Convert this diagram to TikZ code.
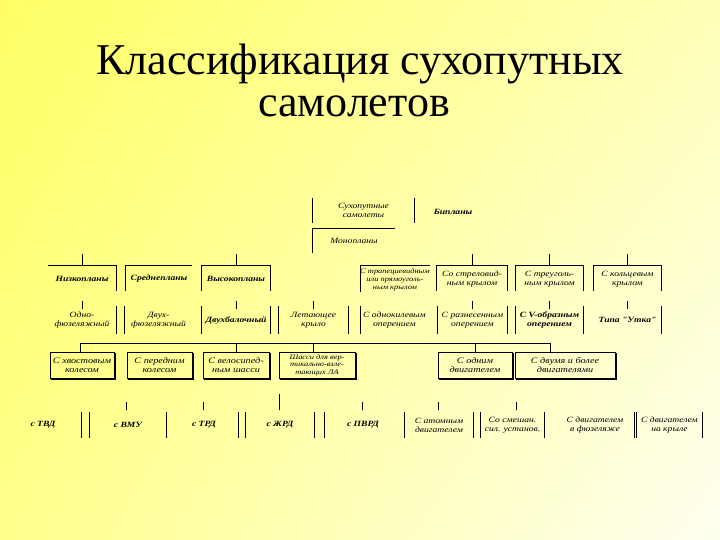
\documentclass[tikz,border=0pt]{standalone}
\usepackage{fontspec}
\usetikzlibrary{shadings}
\setmainfont{Liberation Serif}
\newfontfamily\boxfont[FakeStretch=1.2]{Liberation Serif}
\definecolor{bgUL}{RGB}{255,255,100}
\definecolor{bgUR}{RGB}{255,255,185}
\definecolor{bgLL}{RGB}{255,255,140}
\definecolor{bgLR}{RGB}{255,255,240}
\begin{document}
\begin{tikzpicture}[x=1pt,y=-1pt,
  lbl/.style={font=\boxfont\itshape\fontsize{8}{9}\selectfont, align=center, inner sep=0pt, minimum height=24pt},
  blbl/.style={lbl, font=\boxfont\bfseries\itshape\fontsize{8}{9}\selectfont},
  ln/.style={line width=0.8pt, black},
  framed/.style={lbl, draw, line width=0.8pt, minimum height=26pt, font=\boxfont\itshape\fontsize{8.5}{9.5}\selectfont},
  shadowln/.style={line width=1.4pt, black},
  title/.style={font=\fontsize{44}{50}\selectfont, inner sep=0pt, anchor=base}]
\useasboundingbox (0,0) rectangle (720,540);
\shade[upper left=bgUL, upper right=bgUR, lower left=bgLL, lower right=bgLR]
  (0,0) rectangle (720,540);
% title
\node[title] (t1) at (360,75) {Классификация сухопутных};
\node[title] (t2) at (354,117) {самолетов};
% top
\node[lbl, minimum width=101pt, minimum height=25pt] (top) at (363.5,210.5) {Сухопутные\\самолеты};
\node[blbl] (bip) at (453,212) {Бипланы};
\node[lbl, minimum width=82pt, minimum height=24pt] (mono) at (354,241) {Монопланы};
\draw[ln] (top.north west) -- (top.south west);
\draw[ln] (top.north east) -- (top.south east);
\draw[ln] (mono.north east) -- (mono.north west) -- (mono.south west);
% row 2
\node[blbl, minimum width=68pt] (b1) at (82,279) {Низкопланы};
\node[blbl, minimum width=66pt] (b2) at (159,279) {Среднепланы};
\node[blbl, minimum width=68pt] (b3) at (236,279) {Высокопланы};
\node[lbl, minimum width=66pt, font=\boxfont\itshape\fontsize{7}{8.3}\selectfont] (b4) at (395,280) {С трапециевидным\\или прямоуголь-\\ным крылом};
\node[lbl, minimum width=70pt] (b5) at (472,279) {Со стреловид-\\ным крылом};
\node[lbl, minimum width=67pt] (b6) at (549.5,279) {С треуголь-\\ным крылом};
\node[lbl, minimum width=67pt] (b7) at (627.5,279) {С кольцевым\\крылом};
\draw[ln] ([yshift=1pt]b1.north west) -- ([yshift=1pt]b1.north east) -- (b1.south east);
\draw[ln] ([yshift=1pt]b2.north east) -- ([yshift=1pt]b2.north west) -- (b2.south west);
\draw[ln] ([yshift=2pt]b4.north east) -- ([yshift=2pt]b4.north west) -- (b4.south west);
\foreach \n in {b3,b5,b6,b7}
  \draw[ln] (\n.south west) -- ([yshift=1pt]\n.north west) -- ([yshift=1pt]\n.north east) -- (\n.south east);
\foreach \n in {b1,b3,b5,b6,b7}
  \draw[ln] ([yshift=1pt]\n.north) -- ++(0,-12);
% row 3
\node[lbl, minimum width=68pt, minimum height=27pt] (c1) at (82,320) {Одно-\\фюзеляжный};
\node[lbl, minimum width=67pt, minimum height=27pt] (c2) at (158.5,320) {Двух-\\фюзеляжный};
\node[blbl, minimum width=68pt, minimum height=27pt] (c3) at (236,320) {Двухбалочный};
\node[lbl, minimum width=69pt, minimum height=27pt] (c4) at (313.5,320) {Летающее\\крыло};
\node[lbl, minimum width=67pt, minimum height=27pt] (c5) at (394.5,320) {С однокилевым\\оперением};
\node[lbl, minimum width=69pt, minimum height=27pt] (c6) at (472.5,320) {С разнесенным\\оперением};
\node[blbl, minimum width=67pt, minimum height=27pt] (c7) at (549.5,320) {С V-образным\\оперением};
\node[blbl, minimum width=67pt, minimum height=27pt] (c8) at (627.5,320) {Типа "Утка"};
\draw[ln] (c1.north east) -- (c1.south east);
\draw[ln] (c2.north west) -- (c2.south west);
\draw[ln] (c5.north west) -- (c5.south west);
\draw[ln] (c8.north east) -- (c8.south east);
\foreach \n in {c3,c4,c6,c7} {
  \draw[ln] (\n.north west) -- (\n.south west);
  \draw[ln] (\n.north east) -- (\n.south east);
}
\foreach \n in {c1,c3,c4,c6,c7,c8}
  \draw[ln] ([yshift=-3pt]\n.north) -- ++(0,-8);
% row 4
\node[framed, minimum width=64pt] (d1) at (82,365) {С хвостовым\\колесом};
\node[framed, minimum width=65pt] (d2) at (159.5,365) {С передним\\колесом};
\node[framed, minimum width=66pt] (d3) at (236,365) {С велосипед-\\ным шасси};
\node[framed, minimum width=76pt, font=\boxfont\itshape\fontsize{7}{7.6}\selectfont] (d4) at (317,365) {Шасси для вер-\\тикально-взле-\\тающих ЛА};
\node[framed, minimum width=74pt] (d5) at (475,365) {С одним\\двигателем};
\node[framed, minimum width=100pt] (d6) at (565,365) {С двумя и более\\двигателями};
\foreach \n in {d1,d2,d3,d4,d5,d6}
  \draw[shadowln] ([shift={(1.2,1.5)}]\n.north east) -- ([shift={(1.2,1.2)}]\n.south east) -- ([shift={(1.5,1.2)}]\n.south west);
\coordinate (busL) at (80,343);
\coordinate (busR) at (550,343);
\draw[ln] (busL) -- (busR);
\draw[ln] (d1.north -| busL) -- (busL);
\draw[ln] (d3.north) -- (d3.north |- busL);
\draw[ln] ([xshift=-4pt]d4.north) -- ([xshift=-4pt]d4.north |- busL);
\draw[ln] (d5.north) -- (d5.north |- busL);
\draw[ln] (d6.north -| busR) -- (busR);
% row 5
\node[blbl, minimum width=77pt, minimum height=25pt] (e1) at (43,425) {с ТВД};
\node[blbl, minimum width=76pt, minimum height=25pt] (e2) at (128,425) {с ВМУ};
\node[blbl, minimum width=68pt, minimum height=25pt] (e3) at (204,425) {с ТРД};
\node[blbl, minimum width=68pt, minimum height=25pt] (e4) at (280,425) {с ЖРД};
\node[blbl, minimum width=76pt, minimum height=25pt] (e5) at (363,425) {с ПВРД};
\node[lbl, minimum width=68pt, minimum height=25pt] (e6) at (439,425) {С атомным\\двигателем};
\node[lbl, minimum width=63pt, minimum height=25pt] (e7) at (512.5,425) {Со смешан.\\сил. установ.};
\node[lbl, minimum width=78pt, minimum height=25pt] (e8) at (595,425) {С двигателем\\в фюзеляже};
\node[lbl, minimum width=65pt, minimum height=25pt] (e9) at (669.5,425) {С двигателем\\на крыле};
\draw[ln] (e1.north east) -- (e1.south east);
\draw[ln] (e3.north east) -- (e3.south east);
\draw[ln] (e5.north west) -- (e5.south west);
\draw[ln] (e8.north east) -- (e8.south east);
\foreach \n in {e2,e4,e6,e7,e9} {
  \draw[ln] (\n.north west) -- (\n.south west);
  \draw[ln] (\n.north east) -- (\n.south east);
}
\foreach \n/\dx in {e2/-2,e3/-1,e5/-1,e6/-1,e7/3.5}
  \draw[ln] ([shift={(\dx,-2)}]\n.north) -- ++(0,-8);
\draw[ln] ([shift={(-1,-2)}]e4.north) -- ++(0,-16);
\end{tikzpicture}
\end{document}
